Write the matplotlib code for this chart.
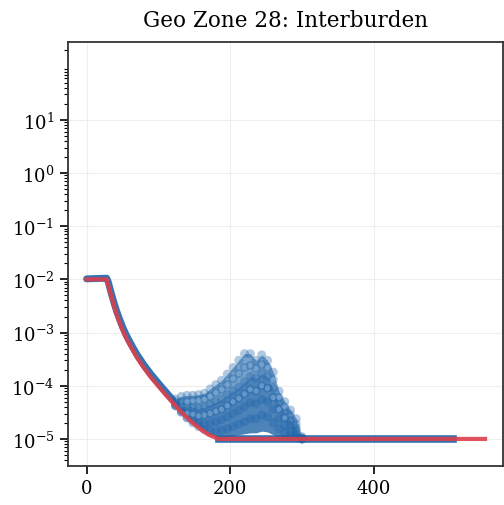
import numpy as np
import matplotlib
matplotlib.use("Agg")
import matplotlib.pyplot as plt
from matplotlib.ticker import FixedLocator, LogLocator, NullFormatter

plt.rcParams['font.family'] = ['DejaVu Serif']
plt.rcParams['mathtext.fontset'] = 'dejavuserif'

# fitted curve (red)
fit_x = [0, 28, 32, 36, 40, 45, 50, 55, 60, 70, 80, 90, 100, 110, 120, 130,
         140, 150, 160, 170, 184, 555]
fit_y = [1e-2, 1e-2, 6.3e-3, 4.0e-3, 2.6e-3, 1.66e-3, 1.12e-3, 7.9e-4, 5.9e-4,
         3.4e-4, 2.14e-4, 1.41e-4, 9.8e-5, 6.8e-5, 4.8e-5, 3.4e-5, 2.5e-5,
         1.9e-5, 1.48e-5, 1.2e-5, 1e-5, 1e-5]

# samples hugging the curve
band_x = [0, 28, 30, 34, 38, 42, 46, 50, 55, 60, 65, 70, 75, 80, 85, 90, 95,
          100, 105, 110, 115, 120]
band_y = [1.02e-2, 1.05e-2, 9.1e-3, 5.75e-3, 3.7e-3, 2.5e-3, 1.78e-3, 1.29e-3,
          9.1e-4, 6.8e-4, 5.1e-4, 3.9e-4, 3.1e-4, 2.45e-4, 2.0e-4, 1.62e-4,
          1.35e-4, 1.12e-4, 9.3e-5, 7.8e-5, 6.5e-5, 5.5e-5]

# floor samples
floor_x = [184, 510]
floor_y = [1e-5, 1e-5]

# scattered cloud of samples
cloud_x = [124, 132, 140, 148, 156, 164, 172, 180, 188, 196, 204, 212, 220,
           228, 236, 244, 252, 260, 268, 276, 284, 292, 300]
cloud_a = [5.6e-5, 6.3e-5, 6.6e-5, 6.6e-5, 6.8e-5, 7.2e-5, 8.7e-5, 1.05e-4,
           1.26e-4, 1.66e-4, 2.2e-4, 3.0e-4, 4.0e-4, 4.0e-4, 3.0e-4, 3.8e-4,
           3.0e-4, 1.8e-4, 7.9e-5, 5.0e-5, 3.5e-5, 2.4e-5, 1.1e-5]
cloud_b = [5.0e-5, 5.0e-5, 5.0e-5, 5.2e-5, 5.3e-5, 5.6e-5, 6.3e-5, 7.4e-5,
           8.5e-5, 1.05e-4, 1.35e-4, 1.7e-4, 2.2e-4, 2.4e-4, 2.1e-4, 2.5e-4,
           2.2e-4, 1.3e-4, 6.0e-5, 4.0e-5, 2.8e-5, 1.9e-5, 1.05e-5]
cloud_c = [4.6e-5, 4.0e-5, 4.2e-5, 4.0e-5, 3.8e-5, 4.0e-5, 4.5e-5, 5.0e-5,
           5.6e-5, 6.8e-5, 8.0e-5, 9.5e-5, 1.2e-4, 1.5e-4, 1.4e-4, 1.7e-4,
           1.5e-4, 9.0e-5, 4.8e-5, 3.2e-5, 2.2e-5, 1.6e-5, 1.0e-5]
cloud_d = [4.3e-5, 3.4e-5, 3.0e-5, 2.9e-5, 2.7e-5, 2.8e-5, 3.0e-5, 3.3e-5,
           3.6e-5, 4.2e-5, 5.0e-5, 5.8e-5, 7.0e-5, 8.5e-5, 8.0e-5, 1.0e-4,
           9.0e-5, 6.0e-5, 3.6e-5, 2.5e-5, 1.8e-5, 1.4e-5, 1.0e-5]
cloud_e = [4.2e-5, 3.2e-5, 2.5e-5, 2.2e-5, 2.0e-5, 1.9e-5, 2.0e-5, 2.1e-5,
           2.3e-5, 2.6e-5, 3.0e-5, 3.4e-5, 4.0e-5, 4.8e-5, 4.6e-5, 5.5e-5,
           5.0e-5, 3.6e-5, 2.4e-5, 1.8e-5, 1.4e-5, 1.2e-5, 1.0e-5]
cloud_f = [4.2e-5, 3.2e-5, 2.5e-5, 2.0e-5, 1.7e-5, 1.5e-5, 1.4e-5, 1.4e-5,
           1.45e-5, 1.55e-5, 1.7e-5, 1.9e-5, 2.1e-5, 2.4e-5, 2.4e-5, 2.8e-5,
           2.6e-5, 2.0e-5, 1.55e-5, 1.3e-5, 1.15e-5, 1.05e-5, 1.0e-5]
cloud_g = [4.2e-5, 3.2e-5, 2.5e-5, 2.0e-5, 1.65e-5, 1.4e-5, 1.2e-5, 1.1e-5,
           1.1e-5, 1.12e-5, 1.15e-5, 1.2e-5, 1.25e-5, 1.3e-5, 1.3e-5, 1.4e-5,
           1.35e-5, 1.2e-5, 1.1e-5, 1.05e-5, 1.0e-5, 1.0e-5, 1.0e-5]

yticks = [1e-5, 1e-4, 1e-3, 1e-2, 1e-1, 1e0, 1e1]
xticks = [0, 200, 400]

fig = plt.figure(figsize=(5.04, 5.06), dpi=100)
ax = fig.add_axes([0.134, 0.078, 0.864, 0.838])

blue = '#1f64a8'
ax.plot(band_x, band_y, color=blue, lw=5, alpha=0.9, solid_capstyle='round', zorder=2)
ax.plot(floor_x, floor_y, color=blue, lw=5.5, alpha=0.9, zorder=2)
ax.fill_between(cloud_x, cloud_g, cloud_c, color=blue, alpha=0.8, lw=0, zorder=2)
ax.fill_between(cloud_x, cloud_c, cloud_a, color=blue, alpha=0.6, lw=0, zorder=2)
for row in [cloud_a, cloud_b, cloud_c, cloud_d, cloud_e, cloud_f]:
    ax.scatter(cloud_x, row, s=42, color=blue, edgecolors='none', alpha=0.35, zorder=2)
for row in [cloud_b, cloud_d]:
    ax.scatter(cloud_x[2:-3], row[2:-3], s=14, color='#8fb6de', edgecolors='none',
               alpha=0.5, zorder=2)

ax.plot(fit_x, fit_y, color='#dc3f4c', lw=3, alpha=0.9, zorder=3)

ax.set_yscale('log')
ax.set_xlim(-26.5, 580)
ax.set_ylim(10 ** -5.5, 10 ** 2.47)
ax.yaxis.set_major_locator(FixedLocator(yticks))
ax.yaxis.set_minor_locator(LogLocator(base=10, subs=np.arange(2, 10), numticks=20))
ax.yaxis.set_minor_formatter(NullFormatter())
ax.set_xticks(xticks)

ax.grid(True, which='major', color='#eeeeee', lw=0.8)
ax.set_axisbelow(True)
ax.tick_params(labelsize=13, width=1.2, length=6)
ax.tick_params(which='minor', length=3, width=0.8)
for s in ax.spines.values():
    s.set_linewidth(1.3)
    s.set_color('#333333')

ax.set_title('Geo Zone 28: Interburden', fontsize=15.5, pad=11)

fig.savefig('out.png', dpi=100)
